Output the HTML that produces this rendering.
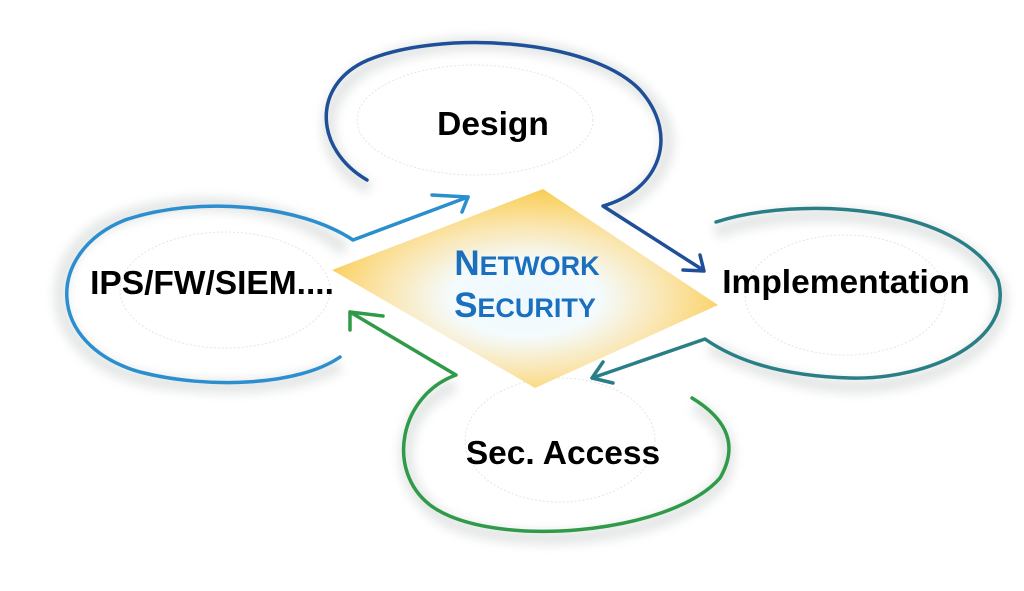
<!DOCTYPE html>
<html><head><meta charset="utf-8"><style>
html,body{margin:0;padding:0;background:#fff;}
svg{display:block;}
text{font-family:"Liberation Sans",Arial,sans-serif;font-weight:bold;}
</style></head><body>
<svg width="1024" height="591" viewBox="0 0 1024 591" xmlns="http://www.w3.org/2000/svg">
<defs>
<radialGradient id="dg" cx="0.5" cy="0.55" r="0.55">
<stop offset="0" stop-color="#eef8fd"/>
<stop offset="0.35" stop-color="#f4fbfd"/>
<stop offset="0.7" stop-color="#fbe3a6"/>
<stop offset="1" stop-color="#f8cd52"/>
</radialGradient>
<filter id="sh" x="-20%" y="-20%" width="140%" height="140%"><feGaussianBlur stdDeviation="5"/></filter>
</defs>
<g fill="none" stroke="#e2e4e4" stroke-width="14" filter="url(#sh)" opacity="0.9">
<path d="M370,188 C315,160 312,90 378,62 C450,30 590,40 645,95 C690,140 660,190 610,212"/>
<path d="M345,250 C290,200 180,190 105,225 C35,265 45,365 160,382 C240,392 300,385 340,365"/>
<path d="M715,232 C800,200 965,210 1000,290 C1012,360 900,395 830,385 C780,380 735,360 710,348"/>
<path d="M455,385 C393,410 388,490 450,522 C520,552 680,540 722,480 C740,440 715,420 695,405"/>
</g>
<g fill="#fff" stroke="#e4e6e6" stroke-width="1" stroke-dasharray="2 2">
<ellipse cx="475" cy="120" rx="118" ry="55"/>
<ellipse cx="225" cy="290" rx="105" ry="58"/>
<ellipse cx="845" cy="295" rx="100" ry="60"/>
<ellipse cx="560" cy="440" rx="95" ry="62"/>
</g>
<polygon points="543,189 718,305 535,388 332,270" fill="url(#dg)"/>
<g fill="none" stroke="#1f4f98" stroke-width="3.5" stroke-linejoin="round" stroke-linecap="round">
<path d="M367,180 C315,150 310,85 368,60 C440,30 590,38 640,90 C680,135 660,190 603,206 L703,270"/>
<path d="M683,270 L704,271 L700,255"/>
</g>
<g fill="none" stroke="#2b8fcf" stroke-width="3.5" stroke-linejoin="round" stroke-linecap="round">
<path d="M468,197 L353,240 C300,205 200,195 125,220 C45,252 45,345 140,372 C210,390 300,385 340,357"/>
<path d="M432,195 L468,197 L462,212"/>
</g>
<g fill="none" stroke="#2a7f86" stroke-width="3.5" stroke-linejoin="round" stroke-linecap="round">
<path d="M716,222 C800,195 960,205 998,280 C1015,340 930,380 850,378 C780,376 735,360 705,339 L592,378"/>
<path d="M603,362 L592,378 L613,383"/>
</g>
<g fill="none" stroke="#2f9b49" stroke-width="3.5" stroke-linejoin="round" stroke-linecap="round">
<path d="M350,312 L456,375 C400,395 385,470 430,505 C490,550 670,535 720,478 C742,440 720,415 692,398"/>
<path d="M350,330 L350,312 L383,316"/>
</g>
<text x="493" y="135" font-size="33.5" text-anchor="middle" fill="#000">Design</text>
<text x="212" y="294" font-size="33.5" text-anchor="middle" fill="#000">IPS/FW/SIEM....</text>
<text x="846" y="293" font-size="33.5" text-anchor="middle" fill="#000">Implementation</text>
<text x="563" y="464" font-size="33.5" text-anchor="middle" fill="#000">Sec. Access</text>
<text x="527" y="275" font-size="35" text-anchor="middle" fill="#1a6fbf">N<tspan font-size="27">ETWORK</tspan></text>
<text x="525" y="317" font-size="35" text-anchor="middle" fill="#1a6fbf">S<tspan font-size="27">ECURITY</tspan></text>
</svg>
</body></html>
